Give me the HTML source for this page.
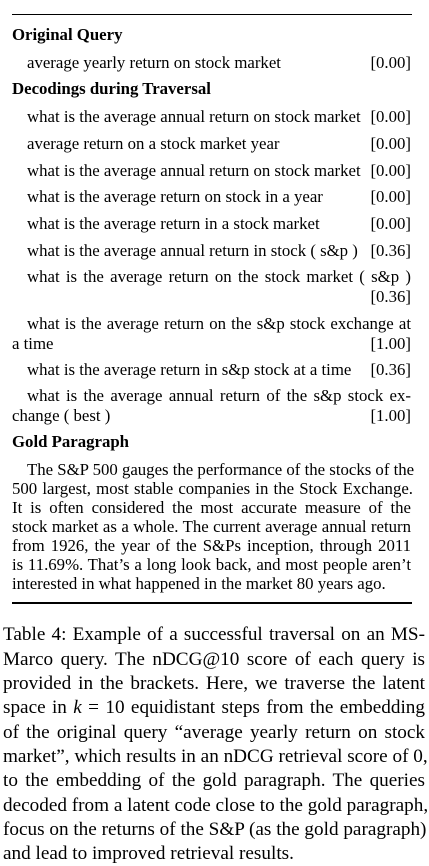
<!DOCTYPE html>
<html><head><meta charset="utf-8">
<style>
body{margin:0;width:429px;height:859px;background:#fff;position:relative;overflow:hidden;font-family:"Liberation Serif",serif;color:#000}
.l{position:absolute;white-space:nowrap;line-height:20px;height:20px}
.t{font-size:16.8px}
.b{font-weight:bold}
.row{left:27px;width:384px;display:flex;justify-content:space-between}
.jr{left:27px;width:384px}
.j{text-align:justify;text-align-last:justify}
.c{font-size:19.2px;left:3px;width:422px;line-height:24px;height:24px}
.rule{position:absolute;left:12px;width:400px;background:#000}
</style></head><body>
<div class="rule" style="top:14px;height:1px"></div>
<div class="l t b" style="left:12px;top:25px">Original Query</div>
<div class="l t row" style="top:53px"><span>average yearly return on stock market</span><span>[0.00]</span></div>
<div class="l t b" style="left:12px;top:79px">Decodings during Traversal</div>
<div class="l t row" style="top:107px"><span>what is the average annual return on stock market</span><span>[0.00]</span></div>
<div class="l t row" style="top:134px"><span>average return on a stock market year</span><span>[0.00]</span></div>
<div class="l t row" style="top:161px"><span>what is the average annual return on stock market</span><span>[0.00]</span></div>
<div class="l t row" style="top:187px"><span>what is the average return on stock in a year</span><span>[0.00]</span></div>
<div class="l t row" style="top:214px"><span>what is the average return in a stock market</span><span>[0.00]</span></div>
<div class="l t row" style="top:241px"><span>what is the average annual return in stock ( s&amp;p )</span><span>[0.36]</span></div>
<div class="l t jr j" style="top:267px">what is the average return on the stock market ( s&amp;p )</div>
<div class="l t" style="left:12px;width:399px;top:287px;text-align:right">[0.36]</div>
<div class="l t jr j" style="top:314px">what is the average return on the s&amp;p stock exchange at</div>
<div class="l t" style="left:12px;width:399px;top:334px;display:flex;justify-content:space-between"><span>a time</span><span>[1.00]</span></div>
<div class="l t row" style="top:360px"><span>what is the average return in s&amp;p stock at a time</span><span>[0.36]</span></div>
<div class="l t jr j" style="top:386px">what is the average annual return of the s&amp;p stock ex-</div>
<div class="l t" style="left:12px;width:399px;top:406px;display:flex;justify-content:space-between"><span>change ( best )</span><span>[1.00]</span></div>
<div class="l t b" style="left:12px;top:432px">Gold Paragraph</div>
<div class="l t j" style="left:27px;width:384px;top:460px">The S&amp;P 500 gauges the performance of the stocks of the</div>
<div class="l t j" style="left:12px;width:401px;top:479px">500 largest, most stable companies in the Stock Exchange.</div>
<div class="l t j" style="left:12px;width:399px;top:498px">It is often considered the most accurate measure of the</div>
<div class="l t j" style="left:12px;width:399px;top:517px">stock market as a whole. The current average annual return</div>
<div class="l t j" style="left:12px;width:399px;top:536px">from 1926, the year of the S&amp;Ps inception, through 2011</div>
<div class="l t j" style="left:12px;width:399px;top:555px">is 11.69%. That’s a long look back, and most people aren’t</div>
<div class="l t" style="left:12px;top:574px">interested in what happened in the market 80 years ago.</div>
<div class="rule" style="top:602px;height:2px"></div>
<div class="l c j" style="top:623px">Table 4: Example of a successful traversal on an MS-</div>
<div class="l c j" style="top:648px">Marco query. The nDCG@10 score of each query is</div>
<div class="l c j" style="top:672px">provided in the brackets. Here, we traverse the latent</div>
<div class="l c j" style="top:696px">space in <i>k</i> = 10 equidistant steps from the embedding</div>
<div class="l c j" style="top:721px">of the original query “average yearly return on stock</div>
<div class="l c j" style="top:745px">market”, which results in an nDCG retrieval score of 0,</div>
<div class="l c j" style="top:769px">to the embedding of the gold paragraph. The queries</div>
<div class="l c j" style="top:794px">decoded from a latent code close to the gold paragraph,</div>
<div class="l c j" style="top:818px">focus on the returns of the S&amp;P (as the gold paragraph)</div>
<div class="l c" style="top:842px">and lead to improved retrieval results.</div>
</body></html>
